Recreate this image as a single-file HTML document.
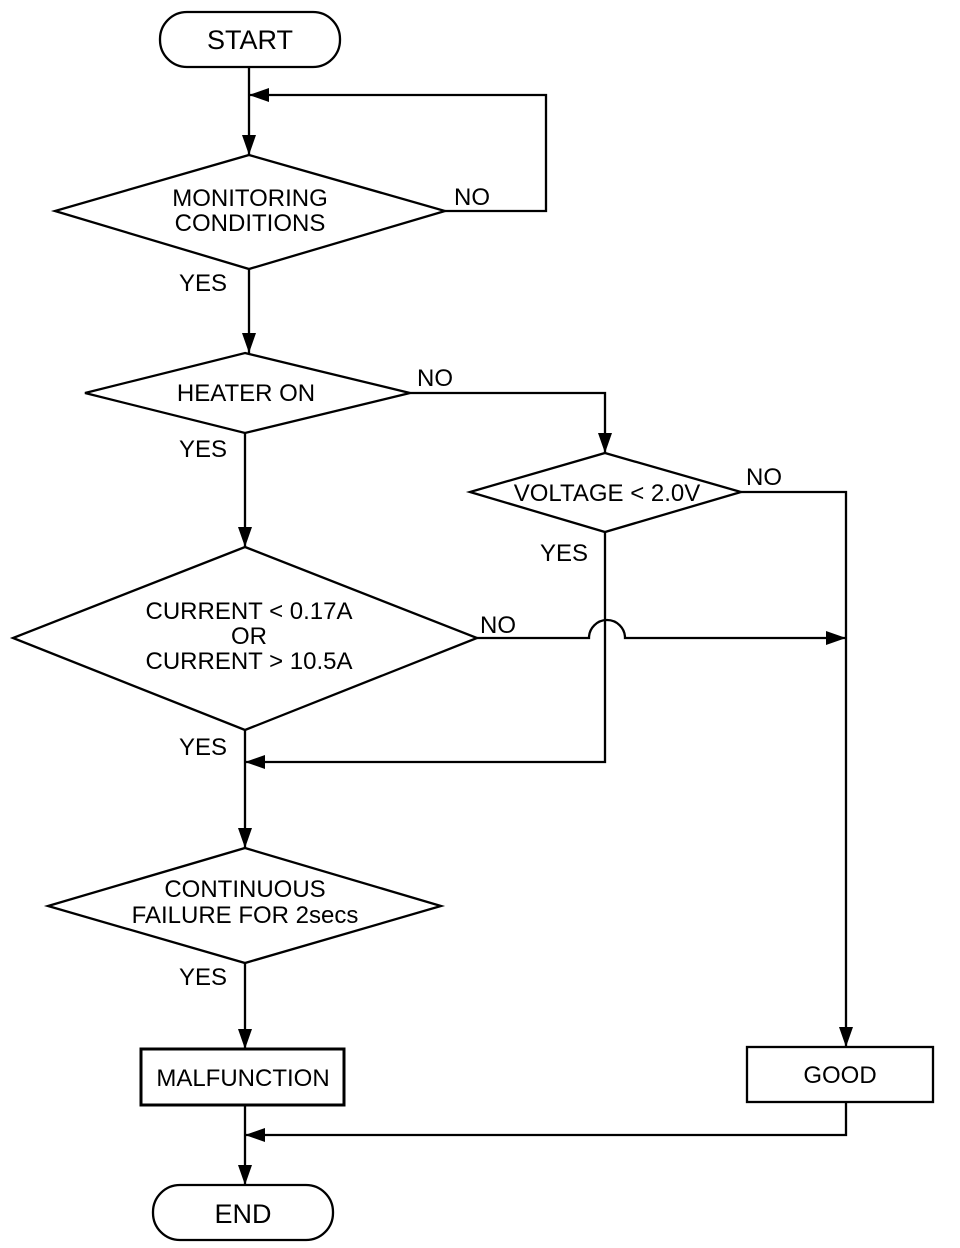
<!DOCTYPE html>
<html><head><meta charset="utf-8"><style>
html,body{margin:0;padding:0;background:#fff;}
svg{display:block;}
text{font-family:"Liberation Sans",Arial,sans-serif;font-size:24px;fill:#000;text-anchor:middle;}
text.b{font-size:27px;}
</style></head><body>
<svg width="960" height="1248" viewBox="0 0 960 1248" xmlns="http://www.w3.org/2000/svg">
<defs>
<marker id="a" viewBox="0 0 20 14" refX="20" refY="7" markerWidth="20" markerHeight="14" markerUnits="userSpaceOnUse" orient="auto">
<path d="M0,0 L20,7 L0,14 Z" fill="#000"/></marker>
</defs>
<g fill="none" stroke="#000" stroke-width="2.3">
<rect x="160" y="12" width="180" height="55" rx="27" ry="27"/>
<rect x="153" y="1185" width="180" height="55" rx="27" ry="27"/>
<rect x="141" y="1049" width="203" height="56" stroke-width="3"/>
<rect x="747" y="1047" width="186" height="55"/>
<polygon points="249,155 445,211 249,269 55,211"/>
<polygon points="245,353 410,393 245,433 85,393"/>
<polygon points="605,453 741,492 605,532 470,492"/>
<polygon points="245,547 477,638 245,730 13,638"/>
<polygon points="245,848 441,906 245,963 48,906"/>
<line x1="249" y1="67" x2="249" y2="155" marker-end="url(#a)"/>
<polyline points="445,211 546,211 546,95 249,95" marker-end="url(#a)"/>
<line x1="249" y1="269" x2="249" y2="353" marker-end="url(#a)"/>
<polyline points="410,393 605,393 605,453" marker-end="url(#a)"/>
<polyline points="741,492 846,492 846,1047" marker-end="url(#a)"/>
<polyline points="605,532 605,762 245,762" marker-end="url(#a)"/>
<line x1="245" y1="433" x2="245" y2="547" marker-end="url(#a)"/>
<path d="M477,638 L589,638 A18,18 0 0 1 625,638 L846,638" marker-end="url(#a)"/>
<line x1="245" y1="730" x2="245" y2="848" marker-end="url(#a)"/>
<line x1="245" y1="963" x2="245" y2="1049" marker-end="url(#a)"/>
<polyline points="846,1102 846,1135 245,1135" marker-end="url(#a)"/>
<line x1="245" y1="1105" x2="245" y2="1185" marker-end="url(#a)"/>
</g>
<text class="b" x="250" y="49">START</text>
<text class="b" x="243" y="1223">END</text>
<text x="243" y="1086">MALFUNCTION</text>
<text x="840" y="1083">GOOD</text>
<text x="250" y="206">MONITORING</text>
<text x="250" y="231">CONDITIONS</text>
<text x="246" y="401">HEATER ON</text>
<text x="607" y="501">VOLTAGE &lt; 2.0V</text>
<text x="249" y="619">CURRENT &lt; 0.17A</text>
<text x="249" y="644">OR</text>
<text x="249" y="669">CURRENT &gt; 10.5A</text>
<text x="245" y="897">CONTINUOUS</text>
<text x="245" y="923">FAILURE FOR 2secs</text>
<text x="472" y="205">NO</text>
<text x="203" y="291">YES</text>
<text x="435" y="386">NO</text>
<text x="203" y="457">YES</text>
<text x="764" y="485">NO</text>
<text x="564" y="561">YES</text>
<text x="498" y="633">NO</text>
<text x="203" y="755">YES</text>
<text x="203" y="985">YES</text>
</svg>
</body></html>
